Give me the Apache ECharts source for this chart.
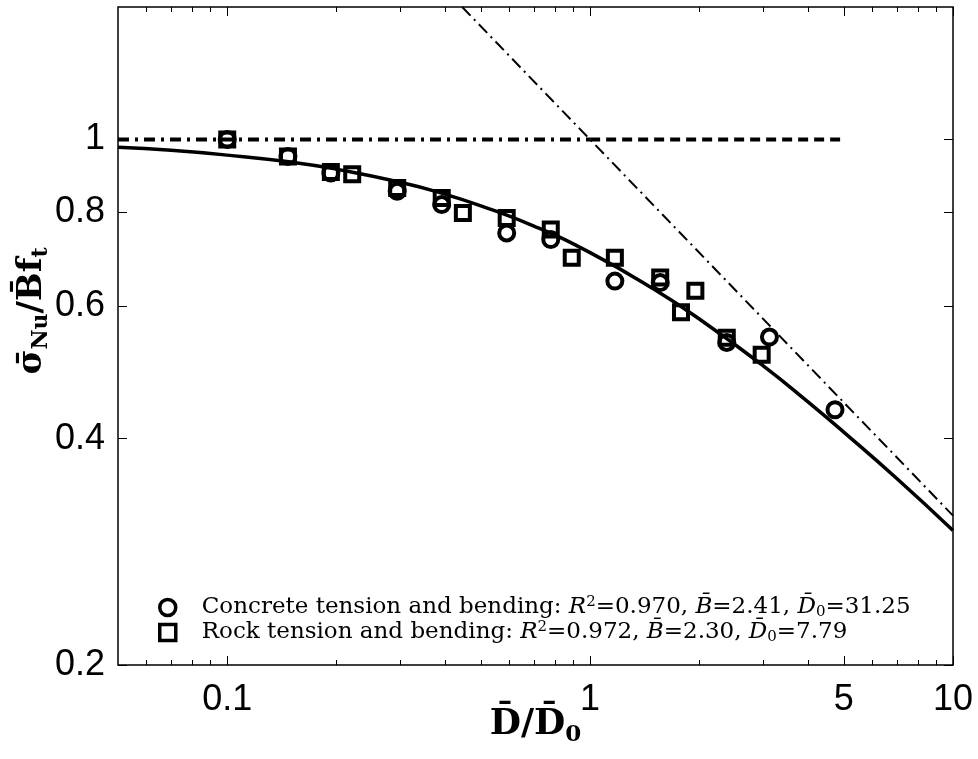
<!DOCTYPE html>
<html>
<head>
<meta charset="utf-8">
<script src="https://cdn.jsdelivr.net/npm/echarts@6/dist/echarts.min.js"></script>
<style>
  html, body { margin: 0; padding: 0; background: #ffffff; }
  #chart { width: 978px; height: 759px; }
</style>
</head>
<body>
<div id="chart"></div>
<script>
// Tick positions on the log axes
const xMajorTicks = [0.1, 1, 5, 10];
const xMinorTicks = [0.06, 0.07, 0.08, 0.09, 0.2, 0.3, 0.4, 0.5, 0.6, 0.7, 0.8, 0.9, 2, 3, 4, 6, 7, 8, 9];
const yTicks = [0.2, 0.4, 0.6, 0.8, 1];

// Measured nominal strengths (D/D0, sigma/Bft)
const concreteX = [0.1, 0.147, 0.193, 0.294, 0.39, 0.589, 0.779, 1.17, 1.56, 2.38, 3.12, 4.73];
const concreteY = [1.0, 0.949, 0.902, 0.853, 0.819, 0.751, 0.736, 0.648, 0.645, 0.537, 0.546, 0.437];
const rockX = [0.1, 0.147, 0.193, 0.221, 0.294, 0.39, 0.446, 0.589, 0.779, 0.89, 1.17, 1.56, 1.78, 1.95, 2.38, 2.97];
const rockY = [1.0, 0.949, 0.905, 0.899, 0.862, 0.836, 0.798, 0.786, 0.759, 0.696, 0.696, 0.655, 0.589, 0.629, 0.545, 0.517];

// Size effect law curve
const curveX = [0.05, 0.07, 0.1, 0.15, 0.2, 0.3, 0.4, 0.5, 0.7, 1, 1.5, 2, 3, 4, 5, 7, 10];
const curveY = [0.976, 0.967, 0.953, 0.933, 0.913, 0.877, 0.845, 0.816, 0.767, 0.707, 0.632, 0.577, 0.500, 0.447, 0.408, 0.354, 0.302];

// Asymptotes: strength criterion (horizontal) and LEFM slope -1/2
const strengthX = [0.05, 1, 5];
const strengthY = [1, 1, 1];
const lefmX = [0.444, 10];
const lefmY = [1.5, 0.316];

// Fit statistics for the legend
const seriesNames = ['Concrete tension and bending', 'Rock tension and bending'];
const fitR2 = ['0.970', '0.972'];
const fitB = ['2.41', '2.30'];
const fitD0 = ['31.25', '7.79'];

const zip = (xs, ys) => xs.map((x, i) => [x, ys[i]]);

const serif = '"DejaVu Serif", serif';
const sans = '"Liberation Sans", Arial, sans-serif';

const chart = echarts.init(document.getElementById('chart'), null, { renderer: 'canvas' });

const xBase = {
  type: 'log', logBase: 10, min: 0.05, max: 10,
  splitLine: { show: false }, axisLine: { show: false }
};
const tickStyle = { color: '#000', width: 1 };

const option = {
  animation: false,
  backgroundColor: '#ffffff',
  grid: {
    left: 118, right: 25, top: 7, bottom: 94,
    containLabel: false, outerBoundsMode: 'none',
    show: true, borderColor: '#000', borderWidth: 1.5, backgroundColor: 'transparent'
  },
  xAxis: [
    Object.assign({}, xBase, {
      position: 'bottom',
      name: '{b|D̄/D̄}{sub|0}', nameLocation: 'middle', nameGap: 38, nameMoveOverlap: false,
      nameTextStyle: {
        rich: {
          b: { fontFamily: serif, fontWeight: 'bold', fontSize: 36, color: '#000', lineHeight: 44 },
          sub: { fontFamily: serif, fontWeight: 'bold', fontSize: 23, color: '#000', lineHeight: 22, verticalAlign: 'bottom' }
        }
      },
      axisTick: { show: true, inside: true, length: 9, lineStyle: tickStyle, customValues: xMajorTicks },
      axisLabel: { show: true, margin: 17, fontFamily: sans, fontSize: 36, color: '#000',
        customValues: xMajorTicks, formatter: v => String(v) }
    }),
    Object.assign({}, xBase, {
      position: 'bottom',
      axisTick: { show: true, inside: true, length: 5, lineStyle: tickStyle, customValues: xMinorTicks },
      axisLabel: { show: false }
    }),
    Object.assign({}, xBase, {
      position: 'top',
      axisTick: { show: true, inside: true, length: 9, lineStyle: tickStyle, customValues: xMajorTicks },
      axisLabel: { show: false }
    }),
    Object.assign({}, xBase, {
      position: 'top',
      axisTick: { show: true, inside: true, length: 5, lineStyle: tickStyle, customValues: xMinorTicks },
      axisLabel: { show: false }
    })
  ],
  yAxis: [
    {
      type: 'log', logBase: 10, min: 0.2, max: 1.5, position: 'left',
      splitLine: { show: false }, axisLine: { show: false },
      name: '{s|σ̄}{sub|Nu}{s|/B̄f}{sub|t}', nameLocation: 'middle', nameGap: 66, nameRotate: 90,
      nameMoveOverlap: false,
      nameTextStyle: {
        padding: [0, 0, 0, 50],
        rich: {
          s: { fontFamily: serif, fontWeight: 'bold', fontSize: 34, color: '#000', lineHeight: 40 },
          sub: { fontFamily: serif, fontWeight: 'bold', fontSize: 22, color: '#000', lineHeight: 21, verticalAlign: 'bottom' }
        }
      },
      axisTick: { show: true, inside: true, length: 9, lineStyle: tickStyle, customValues: yTicks },
      axisLabel: { show: true, margin: 13, fontFamily: sans, fontSize: 36, color: '#000',
        customValues: yTicks, formatter: v => String(v) }
    },
    {
      type: 'log', logBase: 10, min: 0.2, max: 1.5, position: 'right',
      splitLine: { show: false }, axisLine: { show: false },
      axisTick: { show: true, inside: true, length: 9, lineStyle: tickStyle, customValues: yTicks },
      axisLabel: { show: false }
    }
  ],
  legend: {
    orient: 'vertical', left: 158, top: 595, padding: 0, itemGap: 0, itemWidth: 16, itemHeight: 16,
    itemStyle: { borderWidth: 3.5, borderColor: '#000', color: '#fff' },
    data: seriesNames,
    formatter: name => {
      const i = seriesNames.indexOf(name);
      return '{g| }{t|' + name + ': }{i|R}{sup|2}{t|=' + fitR2[i] + ', }{i|B̄}{t|=' + fitB[i] +
        ', }{i|D̄}{sub|0}{t|=' + fitD0[i] + '}';
    },
    textStyle: {
      color: '#000',
      rich: {
        g: { width: 21, fontSize: 23, lineHeight: 25 },
        t: { fontFamily: serif, fontSize: 23, color: '#000', lineHeight: 25 },
        i: { fontFamily: serif, fontStyle: 'italic', fontSize: 23, color: '#000', lineHeight: 25 },
        sup: { fontFamily: serif, fontSize: 15, color: '#000', lineHeight: 16, verticalAlign: 'top' },
        sub: { fontFamily: serif, fontSize: 15, color: '#000', lineHeight: 13, verticalAlign: 'bottom' }
      }
    }
  },
  series: [
    {
      name: 'fit', type: 'line', xAxisIndex: 0, yAxisIndex: 0, smooth: true,
      data: zip(curveX, curveY), showSymbol: false, symbol: 'none',
      lineStyle: { color: '#000', width: 3.5 }, z: 2
    },
    {
      name: 'strength-a', type: 'line', xAxisIndex: 0, yAxisIndex: 0,
      data: zip(strengthX.slice(0, 2), strengthY.slice(0, 2)), symbol: 'none',
      lineStyle: { color: '#000', width: 4, type: [11, 6, 3, 6] }, z: 2
    },
    {
      name: 'strength-b', type: 'line', xAxisIndex: 0, yAxisIndex: 0,
      data: zip(strengthX.slice(1), strengthY.slice(1)), symbol: 'none',
      lineStyle: { color: '#000', width: 4, type: [10, 6] }, z: 2
    },
    {
      name: 'lefm', type: 'line', xAxisIndex: 0, yAxisIndex: 0,
      data: zip(lefmX, lefmY), symbol: 'none',
      lineStyle: { color: '#000', width: 2, type: [12, 5, 2, 5] }, z: 2
    },
    {
      name: seriesNames[0], type: 'scatter', xAxisIndex: 0, yAxisIndex: 0,
      data: zip(concreteX, concreteY), symbol: 'circle', symbolSize: 15,
      itemStyle: { color: 'rgba(255,255,255,0)', borderColor: '#000', borderWidth: 4, opacity: 1 }, z: 3
    },
    {
      name: seriesNames[1], type: 'scatter', xAxisIndex: 0, yAxisIndex: 0,
      data: zip(rockX, rockY), symbol: 'rect', symbolSize: 14,
      itemStyle: { color: 'rgba(255,255,255,0)', borderColor: '#000', borderWidth: 4, opacity: 1 }, z: 4
    }
  ]
};

chart.setOption(option);
</script>
</body>
</html>
